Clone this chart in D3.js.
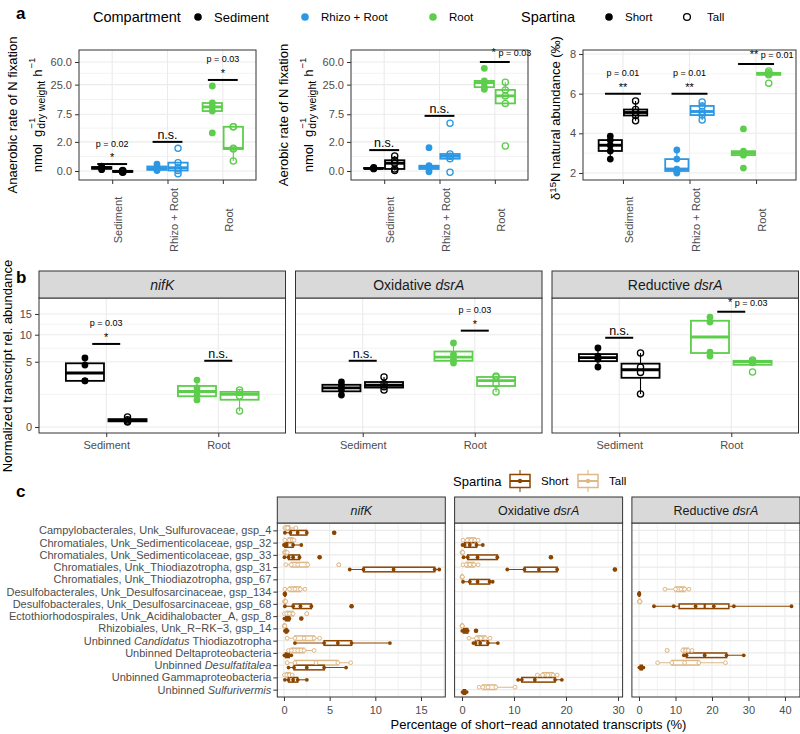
<!DOCTYPE html>
<html>
<head>
  <meta charset="utf-8">
  <title>Spartina N fixation and transcripts</title>
  <script src="https://d3js.org/d3.v7.min.js"></script>
  <style>
    body { margin: 0; background: #fff; }
  </style>
</head>
<body>
<script>
// ---------- data: panel a ----------
var compartments = ['Sediment', 'Rhizo + Root', 'Root'];
var spartina = ['Short', 'Tall'];

// N fixation rates, nmol g-1 dry weight h-1, one list per compartment
var anaerobicShort = [[0.15, 0.1, 0.05, 0.2], [0.3, 0.15, 0.05, 0.02], [23.7, 12, 10.2, 8.6, 3.2]];
var anaerobicTall = [[0.0, -0.03, 0.02, -0.05], [1.35, 0.37, 0.13, 0.02, -0.11], [4.3, 4.3, 1.35, 1.3, 0.46]];
var aerobicShort = [[0.1, 0.12, 0.08, 0.15, 0.1], [1.41, 0.22, 0.15, 0.08, -0.03], [47, 28.9, 27, 22.6, 20.8]];
var aerobicTall = [[0.76, 0.5, 0.34, 0.08, 0.02], [5.04, 0.9, 0.75, 0.59, -0.05], [27.5, 20.3, 16, 11.8, 1.57]];
// delta 15N (permil)
var d15nShort = [[3.86, 3.66, 3.4, 3.11, 2.7], [3.16, 2.7, 2.2, 2.1, 2.0], [4.22, 3.1, 3.0, 2.9, 2.25]];
var d15nTall = [[5.63, 5.2, 5.05, 4.9, 4.63], [5.58, 5.38, 5.1, 4.92, 4.67], [7.14, 7.05, 7.0, 6.95, 6.53]];
var rateTicks = [0, 2, 7.5, 25, 60];
var d15nTicks = [2, 4, 6, 8];
// significance: [bar height, stars, p label, p on same line]
var anaerobicSig = [[0.3, '*', 'p = 0.02'], [2.0, 'n.s.', ''], [30, '*', 'p = 0.03']];
var aerobicSig = [[1.2, 'n.s.', ''], [7, 'n.s.', ''], [60, '*', 'p = 0.03', true]];
var d15nSig = [[6, '**', 'p = 0.01'], [6, '**', 'p = 0.01'], [7.5, '**', 'p = 0.01', true]];

// ---------- data: panel b ----------
var genes = ['*nifK*', 'Oxidative *dsrA*', 'Reductive *dsrA*'];
var bCompartments = ['Sediment', 'Root'];
var transcriptShort = [
  [[5.6, 4.5, 2.5, 2.5], [2.59, 1.79, 1.2, 0.86]],
  [[2.38, 2.0, 1.6, 1.2], [8.29, 6.2, 5.27, 4.81]],
  [[7.33, 5.9, 5.4, 4.23], [14.2, 12.95, 6.6, 5.92]]
];
var transcriptTall = [
  [[0.12, 0.06, 0.04, 0.03], [1.61, 1.4, 1.13, 0.3]],
  [[2.94, 2.2, 1.9, 1.61], [3.05, 2.9, 2.17, 1.44]],
  [[6.43, 4.2, 3.5, 1.28], [5.27, 5.1, 4.9, 3.55]]
];
var transcriptTicks = [0, 5, 10, 15];
var transcriptSig = [
  [[8.1, '*', 'p = 0.03'], [5.15, 'n.s.', '']],
  [[5.15, 'n.s.', ''], [10.9, '*', 'p = 0.03']],
  [[9.35, 'n.s.', ''], [15.6, '*', 'p = 0.03', true]]
];

// ---------- data: panel c ----------
var taxa = [
  'Campylobacterales, Unk_Sulfurovaceae, gsp_4',
  'Chromatiales, Unk_Sedimenticolaceae, gsp_32',
  'Chromatiales, Unk_Sedimenticolaceae, gsp_33',
  'Chromatiales, Unk_Thiodiazotropha, gsp_31',
  'Chromatiales, Unk_Thiodiazotropha, gsp_67',
  'Desulfobacterales, Unk_Desulfosarcinaceae, gsp_134',
  'Desulfobacterales, Unk_Desulfosarcinaceae, gsp_68',
  'Ectothiorhodospirales, Unk_Acidihalobacter_A, gsp_8',
  'Rhizobiales, Unk_R\u2212RK\u22123, gsp_14',
  'Unbinned *Candidatus* Thiodiazotropha',
  'Unbinned Deltaproteobacteria',
  'Unbinned *Desulfatitalea*',
  'Unbinned Gammaproteobacteria',
  'Unbinned *Sulfurivermis*'
];
// percentage of annotated transcripts, one list per taxon
var nifKShort = [[0.1, 0.7, 1.5, 2.5, 5.5], [0, 0.1, 0.3, 1.0, 1.9], [0.05, 0.5, 1.0, 1.7, 3.9], [7.2, 8.7, 12, 16.5, 17], [],
  [0.05, 0.1, 0.1, 0.15], [0.1, 1.0, 1.8, 3.0, 7.4], [0.05, 0.2, 0.4, 0.6, 1.9], [0.1, 0.2, 0.3, 0.4],
  [1.2, 4.4, 5.9, 7.4, 11.6], [0.05, 0.2, 0.5, 0.8], [0.5, 1.1, 2.5, 4.4, 6.8], [0.1, 0.5, 1.0, 1.5, 2.5], []];
var nifKTall = [[0.1, 0.2, 0.4, 1.3], [0.1, 0.6, 0.9, 1.1], [0.05, 0.1, 0.2, 0.35], [0.2, 0.8, 1.5, 2.6, 6.0], [],
  [0.1, 0.6, 1.2, 1.8, 2.3], [0.05, 0.1, 0.15, 0.2], [0.05, 0.3, 0.6, 1.0, 2.5], [0.02, 0.05, 0.08, 0.1],
  [0.35, 1.2, 2.2, 3.3, 3.9], [0.5, 0.8, 1.5, 2.2, 3.3], [0.35, 1.2, 3.5, 5.9, 7.3], [0.05, 0.3, 0.6, 0.9], []];
var oxShort = [[], [0.1, 0.5, 1.5, 2.8, 4.0], [0.3, 1.1, 3.0, 6.8, 17.1], [8.7, 12, 14.8, 18.3, 29.4], [0.2, 1.5, 3.0, 5.3, 5.9],
  [], [], [], [0.05, 0.3, 0.7, 1.1, 2.7], [2.2, 2.6, 3.5, 5.0, 6.9], [], [], [10.8, 11.5, 14, 17.9, 19.2], [0.1, 0.3, 0.6, 0.9]];
var oxTall = [[], [0.2, 1.0, 1.8, 2.5, 3.1], [0, 0.05, 0.1, 0.15], [0.2, 0.8, 1.5, 2.3, 3.1], [0, 0.02, 0.05, 0.08],
  [], [], [], [0, 0.02, 0.04, 0.06], [1.35, 2.8, 3.6, 4.5, 5.4], [], [], [14.5, 15.5, 16.5, 17.5, 18.3], [3.3, 4.0, 5.0, 6.5, 10.2]];
var redShort = [[], [], [], [], [], [0, 0, 0.1, 0.1], [4.1, 9.5, 15.5, 20.5, 26, 41.8], [], [], [],
  [12.3, 13, 18, 24, 28.7], [0.1, 0.4, 0.8, 1.2], [], []];
var redTall = [[], [], [], [], [], [7.1, 10, 11.5, 12.5, 13.7], [0.1, 0.2, 0.3, 0.2], [], [], [],
  [7.7, 12, 12.8, 13.5, 14.5], [5.1, 9, 12.5, 16.4, 23.7], [], []];
var cTicks = [[0, 5, 10, 15], [0, 10, 20, 30], [0, 10, 20, 30, 40]];

// ---------- styles ----------
var compColors = {'Sediment': '#000000', 'Rhizo + Root': '#2C97E3', 'Root': '#5DCD4C'};
var spColors = {'Short': '#8B4500', 'Tall': '#DEB887'};
var gridCol = '#ebebeb', borderCol = '#333333', tickCol = '#4d4d4d';

var svg = d3.select('body').append('svg').attr('width', 800).attr('height', 734)
  .style('font-family', "'Liberation Sans', Arial, Helvetica, sans-serif");

// transforms (stats are computed on the transformed scale, like ggplot)
var tLog = function (v) { return Math.sign(v) * Math.log1p(Math.abs(v)); };
var iLog = function (t) { return Math.sign(t) * Math.expm1(Math.abs(t)); };
var tSqrt = function (v) { return Math.sign(v) * Math.sqrt(Math.abs(v)); };
var iSqrt = function (t) { return Math.sign(t) * t * t; };
var tLin = function (v) { return v; };

function boxStats(vals, tf) {
  var t = vals.map(tf).sort(d3.ascending);
  var q1 = d3.quantile(t, 0.25), med = d3.quantile(t, 0.5), q3 = d3.quantile(t, 0.75);
  var iqr = q3 - q1, lo = q1 - 1.5 * iqr, hi = q3 + 1.5 * iqr;
  var inside = t.filter(function (v) { return v >= lo - 1e-9 && v <= hi + 1e-9; });
  var out = t.filter(function (v) { return v < lo - 1e-9 || v > hi + 1e-9; });
  return {q1: q1, med: med, q3: q3, lo: d3.min(inside), hi: d3.max(inside), out: out};
}

function minorBreaks(ticks, tf, inv, dom) {
  var b = ticks.map(tf), res = [];
  var lo = tf(dom[0]), hi = tf(dom[1]), bd = b[1] - b[0];
  if (lo < b[0]) b.unshift(b[0] - bd);
  if (hi > b[b.length - 1]) b.push(b[b.length - 1] + bd);
  for (var i = 0; i < b.length - 1; i++) {
    var m = (b[i] + b[i + 1]) / 2;
    if (m > lo && m < hi) res.push(inv(m));
  }
  return res;
}

function hline(g, x0, x1, y, w) {
  g.append('line').attr('x1', x0).attr('x2', x1).attr('y1', y).attr('y2', y).attr('stroke', gridCol).attr('stroke-width', w);
}
function vline(g, x, y0, y1, w) {
  g.append('line').attr('x1', x).attr('x2', x).attr('y1', y0).attr('y2', y1).attr('stroke', gridCol).attr('stroke-width', w);
}

function rich(sel, str) {
  str.split('*').forEach(function (part, i) {
    if (part) sel.append('tspan').attr('font-style', i % 2 ? 'italic' : null).text(part);
  });
}

function styleAxis(a, size) {
  a.attr('font-family', null).attr('font-size', size || 11);
  a.select('.domain').remove();
  a.selectAll('.tick line').attr('stroke', borderCol);
  a.selectAll('.tick text').attr('fill', tickCol);
}

function drawVBox(g, y, tf, inv, cx, bw, vals, color, lw) {
  var s = boxStats(vals, tf);
  var Y = function (t) { return y(inv(t)); };
  g.append('line').attr('x1', cx).attr('x2', cx).attr('y1', Y(s.lo)).attr('y2', Y(s.hi))
    .attr('stroke', color).attr('stroke-width', 1.1);
  g.append('rect').attr('x', cx - bw / 2).attr('width', bw).attr('y', Y(s.q3))
    .attr('height', Math.max(0.5, Y(s.q1) - Y(s.q3)))
    .attr('fill', '#fff').attr('stroke', color).attr('stroke-width', lw);
  g.append('line').attr('x1', cx - bw / 2).attr('x2', cx + bw / 2).attr('y1', Y(s.med)).attr('y2', Y(s.med))
    .attr('stroke', color).attr('stroke-width', lw * 1.6);
}

function drawVPoints(g, y, cx, vals, color, open, r) {
  g.selectAll(null).data(vals).enter().append('circle')
    .attr('cx', cx).attr('cy', function (d) { return y(d); }).attr('r', r)
    .attr('fill', open ? 'none' : color).attr('stroke', color).attr('stroke-width', open ? 1.3 : 0);
}

function drawSig(g, cx, yb, half, s) {
  g.append('line').attr('x1', cx - half).attr('x2', cx + half).attr('y1', yb).attr('y2', yb)
    .attr('stroke', '#000').attr('stroke-width', 2);
  if (s[3]) {
    var t = g.append('text').attr('x', cx - s[1].length * 3.2).attr('y', yb - 6);
    t.append('tspan').attr('font-size', 11).text(s[1]);
    t.append('tspan').attr('font-size', 9).text('\u00a0' + s[2]);
  } else if (s[1] === 'n.s.') {
    g.append('text').attr('x', cx).attr('y', yb - 3).attr('text-anchor', 'middle').attr('font-size', 12.5).text('n.s.');
  } else {
    g.append('text').attr('x', cx).attr('y', yb - 3).attr('text-anchor', 'middle').attr('font-size', 11).text(s[1]);
    g.append('text').attr('x', cx).attr('y', yb - 17.5).attr('text-anchor', 'middle').attr('font-size', 9).text(s[2]);
  }
}

// ---------- panel a ----------
var aTop = 50, aBottom = 180;
var rateY = d3.scaleSymlog().constant(1).domain([-0.404, 94.97]).range([aBottom, aTop]);
var d15nY = d3.scaleLinear().domain([1.647, 8.2]).range([aBottom, aTop]);

var aPlots = [
  {x0: 79, x1: 256, y: rateY, tf: tLog, inv: iLog, ticks: rateTicks, fmt: d3.format('.1f'),
    short: anaerobicShort, tall: anaerobicTall, sig: anaerobicSig},
  {x0: 351, x1: 528, y: rateY, tf: tLog, inv: iLog, ticks: rateTicks, fmt: d3.format('.1f'),
    short: aerobicShort, tall: aerobicTall, sig: aerobicSig},
  {x0: 583, x1: 796, y: d15nY, tf: tLin, inv: tLin, ticks: d15nTicks, fmt: d3.format('d'),
    short: d15nShort, tall: d15nTall, sig: d15nSig}
];

aPlots.forEach(function (p) {
  var g = svg.append('g');
  var x = d3.scalePoint().domain(compartments).range([p.x0, p.x1]).padding(0.6);
  var st = x.step();
  g.append('rect').attr('x', p.x0).attr('y', aTop).attr('width', p.x1 - p.x0).attr('height', aBottom - aTop).attr('fill', '#fff');
  minorBreaks(p.ticks, p.tf, p.inv, p.y.domain()).forEach(function (v) { hline(g, p.x0, p.x1, p.y(v), 0.6); });
  p.ticks.forEach(function (v) { hline(g, p.x0, p.x1, p.y(v), 1.1); });
  compartments.forEach(function (c) { vline(g, x(c), aTop, aBottom, 1.1); });
  var boxes = g.append('g'), pts = g.append('g'), ann = g.append('g');
  compartments.forEach(function (c, i) {
    var col = compColors[c];
    drawVBox(boxes, p.y, p.tf, p.inv, x(c) - 0.19 * st, 0.35 * st, p.short[i], col, 1.8);
    drawVBox(boxes, p.y, p.tf, p.inv, x(c) + 0.19 * st, 0.35 * st, p.tall[i], col, 1.8);
    drawVPoints(pts, p.y, x(c) - 0.19 * st, p.short[i], col, false, 3.4);
    drawVPoints(pts, p.y, x(c) + 0.19 * st, p.tall[i], col, true, 3.1);
    drawSig(ann, x(c), p.y(p.sig[i][0]), 0.27 * st, p.sig[i]);
  });
  g.append('rect').attr('x', p.x0).attr('y', aTop).attr('width', p.x1 - p.x0).attr('height', aBottom - aTop)
    .attr('fill', 'none').attr('stroke', borderCol).attr('stroke-width', 1);
  var ya = g.append('g').attr('transform', 'translate(' + p.x0 + ',0)')
    .call(d3.axisLeft(p.y).tickValues(p.ticks).tickFormat(p.fmt).tickSize(4).tickPadding(3));
  styleAxis(ya, 11);
  var xa = g.append('g').attr('transform', 'translate(0,' + aBottom + ')').call(d3.axisBottom(x).tickSize(4));
  styleAxis(xa, 11);
  xa.selectAll('.tick text').attr('transform', 'rotate(-90)').attr('text-anchor', 'middle')
    .attr('x', -40).attr('y', 9.5).attr('dy', null);
});

// axis titles of panel a
function rateTitle(x1, x2, cy, first) {
  svg.append('text').attr('transform', 'translate(' + x1 + ',' + cy + ') rotate(-90)')
    .attr('text-anchor', 'middle').attr('font-size', 13).text(first);
  var outer = svg.append('g').attr('transform', 'translate(' + x2 + ',' + cy + ') rotate(-90)');
  var inner = outer.append('g');
  function piece(str, size, px, dy) {
    return inner.append('text').attr('x', px).attr('y', dy).attr('font-size', size).text(str).node().getComputedTextLength();
  }
  var pos = piece('nmol\u00a0\u00a0g', 13, 0, 0);
  var wSup = piece('\u22121', 9.5, pos + 1, -7);
  var wSub = piece('dry weight', 10.5, pos + 1, 3.5);
  pos += 1 + Math.max(wSup, wSub) + 4;
  pos += piece('h', 13, pos, 0);
  pos += 1 + piece('\u22121', 9.5, pos + 1, -7);
  inner.attr('transform', 'translate(' + (-pos / 2) + ',0)');
}
rateTitle(16.5, 41.5, 115, 'Anaerobic rate of N fixation');
rateTitle(288, 312.5, 115, 'Aerobic rate of N fixation');
var dt = svg.append('text').attr('transform', 'translate(560,118) rotate(-90)').attr('text-anchor', 'middle').attr('font-size', 13);
dt.append('tspan').text('\u03b4');
dt.append('tspan').attr('font-size', 9.5).attr('dy', -4).text('15');
dt.append('tspan').attr('dy', 4).text('N natural abundance (\u2030)');

// top legend
svg.append('text').attr('x', 16).attr('y', 18.5).attr('font-size', 17).attr('font-weight', 'bold').text('a');
svg.append('text').attr('x', 93).attr('y', 22).attr('font-size', 14.5).text('Compartment');
var legA = [
  {x: 198, label: 'Sediment', col: compColors['Sediment'], open: false, size: 13},
  {x: 305, label: 'Rhizo + Root', col: compColors['Rhizo + Root'], open: false, size: 11.5},
  {x: 433, label: 'Root', col: compColors['Root'], open: false, size: 11.5}
];
svg.append('text').attr('x', 521).attr('y', 22).attr('font-size', 14.5).text('Spartina');
legA.push({x: 609, label: spartina[0], col: '#000', open: false, size: 11.5});
legA.push({x: 687, label: spartina[1], col: '#000', open: true, size: 11.5});
legA.forEach(function (d) {
  svg.append('circle').attr('cx', d.x).attr('cy', 17).attr('r', d.open ? 3.4 : 3.8)
    .attr('fill', d.open ? 'none' : d.col).attr('stroke', d.col).attr('stroke-width', d.open ? 1.3 : 0);
  svg.append('text').attr('x', d.x + (d.open ? 20 : 16)).attr('y', 17 + d.size * 0.36).attr('font-size', d.size).text(d.label);
});

// ---------- panel b ----------
var bStrip = 271, bTop = 298, bBottom = 433;
var bX0 = [39, 295.5, 552], bW = 246.5;
var transcriptY = d3.scaleSqrt().domain([-0.0423, 19.54]).range([bBottom, bTop]);

svg.append('text').attr('x', 16).attr('y', 283).attr('font-size', 17).attr('font-weight', 'bold').text('b');
svg.append('text').attr('transform', 'translate(12,366) rotate(-90)').attr('text-anchor', 'middle')
  .attr('font-size', 13).text('Normalized transcript rel. abundance');

genes.forEach(function (gene, k) {
  var x0 = bX0[k], x1 = x0 + bW;
  var g = svg.append('g');
  var x = d3.scalePoint().domain(bCompartments).range([x0, x1]).padding(0.6);
  var st = x.step();
  g.append('rect').attr('x', x0).attr('y', bTop).attr('width', bW).attr('height', bBottom - bTop).attr('fill', '#fff');
  minorBreaks(transcriptTicks, tSqrt, iSqrt, transcriptY.domain()).forEach(function (v) { hline(g, x0, x1, transcriptY(v), 0.6); });
  transcriptTicks.forEach(function (v) { hline(g, x0, x1, transcriptY(v), 1.1); });
  bCompartments.forEach(function (c) { vline(g, x(c), bTop, bBottom, 1.1); });
  var boxes = g.append('g'), pts = g.append('g'), ann = g.append('g');
  bCompartments.forEach(function (c, i) {
    var col = compColors[c];
    drawVBox(boxes, transcriptY, tSqrt, iSqrt, x(c) - 0.19 * st, 0.34 * st, transcriptShort[k][i], col, 1.8);
    drawVBox(boxes, transcriptY, tSqrt, iSqrt, x(c) + 0.19 * st, 0.34 * st, transcriptTall[k][i], col, 1.8);
    drawVPoints(pts, transcriptY, x(c) - 0.19 * st, transcriptShort[k][i], col, false, 3.4);
    drawVPoints(pts, transcriptY, x(c) + 0.19 * st, transcriptTall[k][i], col, true, 3.1);
    drawSig(ann, x(c), transcriptY(transcriptSig[k][i][0]), 14, transcriptSig[k][i]);
  });
  g.append('rect').attr('x', x0).attr('y', bTop).attr('width', bW).attr('height', bBottom - bTop)
    .attr('fill', 'none').attr('stroke', borderCol).attr('stroke-width', 1);
  g.append('rect').attr('x', x0).attr('y', bStrip).attr('width', bW).attr('height', bTop - bStrip)
    .attr('fill', '#d9d9d9').attr('stroke', borderCol).attr('stroke-width', 1);
  var stxt = g.append('text').attr('x', (x0 + x1) / 2).attr('y', 289.5).attr('text-anchor', 'middle')
    .attr('font-size', 14).attr('fill', '#1a1a1a');
  rich(stxt, gene);
  var xa = g.append('g').attr('transform', 'translate(0,' + bBottom + ')').call(d3.axisBottom(x).tickSize(4).tickPadding(4));
  styleAxis(xa, 11);
  if (k === 0) {
    var ya = g.append('g').attr('transform', 'translate(' + x0 + ',0)')
      .call(d3.axisLeft(transcriptY).tickValues(transcriptTicks).tickFormat(d3.format('d')).tickSize(4).tickPadding(3));
    styleAxis(ya, 11);
  }
});

// ---------- panel c ----------
var cStrip = 497, cTop = 523, cBottom = 697;
var cX0 = [277.3, 454.6, 631.9], cW = 168;
var cDomains = [[-0.73, 17.66], [-1.42, 30.88], [-1.95, 44.1]];
var cFacets = [
  {label: '*nifK*', short: nifKShort, tall: nifKTall},
  {label: 'Oxidative *dsrA*', short: oxShort, tall: oxTall},
  {label: 'Reductive *dsrA*', short: redShort, tall: redTall}
];
var taxY = d3.scalePoint().domain(taxa).range([cTop, cBottom]).padding(0.6);

svg.append('text').attr('x', 16).attr('y', 497).attr('font-size', 17).attr('font-weight', 'bold').text('c');

function drawHBox(g, x, cy, bh, vals, color) {
  var s = boxStats(vals, tLin);
  g.append('line').attr('x1', x(s.lo)).attr('x2', x(s.hi)).attr('y1', cy).attr('y2', cy).attr('stroke', color).attr('stroke-width', 1.1);
  g.append('rect').attr('x', x(s.q1)).attr('width', Math.max(0.5, x(s.q3) - x(s.q1))).attr('y', cy - bh / 2).attr('height', bh)
    .attr('fill', '#fff').attr('stroke', color).attr('stroke-width', 1.5);
  g.append('line').attr('x1', x(s.med)).attr('x2', x(s.med)).attr('y1', cy - bh / 2).attr('y2', cy + bh / 2)
    .attr('stroke', color).attr('stroke-width', 2.2);
  g.selectAll(null).data(s.out).enter().append('circle').attr('cx', function (d) { return x(d); }).attr('cy', cy)
    .attr('r', 2.3).attr('fill', color);
}

cFacets.forEach(function (f, k) {
  var x0 = cX0[k], x1 = x0 + cW;
  var g = svg.append('g');
  var x = d3.scaleLinear().domain(cDomains[k]).range([x0, x1]);
  g.append('rect').attr('x', x0).attr('y', cTop).attr('width', cW).attr('height', cBottom - cTop).attr('fill', '#fff');
  minorBreaks(cTicks[k], tLin, tLin, cDomains[k]).forEach(function (v) { vline(g, x(v), cTop, cBottom, 0.6); });
  cTicks[k].forEach(function (v) { vline(g, x(v), cTop, cBottom, 1.1); });
  taxa.forEach(function (t) { hline(g, x0, x1, taxY(t), 1.1); });
  var boxes = g.append('g'), pts = g.append('g');
  taxa.forEach(function (t, i) {
    var groups = [['Tall', f.tall[i], -2.4], ['Short', f.short[i], 2.4]];
    groups.forEach(function (gr) {
      if (!gr[1].length) return;
      var col = spColors[gr[0]], cy = taxY(t) + gr[2], open = gr[0] === 'Tall';
      drawHBox(boxes, x, cy, 4.6, gr[1], col);
      pts.selectAll(null).data(gr[1]).enter().append('circle')
        .attr('cx', function (d) { return x(d); }).attr('cy', cy).attr('r', 1.9)
        .attr('fill', open ? '#fff' : col).attr('stroke', col).attr('stroke-width', open ? 1 : 0);
    });
  });
  g.append('rect').attr('x', x0).attr('y', cTop).attr('width', cW).attr('height', cBottom - cTop)
    .attr('fill', 'none').attr('stroke', borderCol).attr('stroke-width', 1);
  g.append('rect').attr('x', x0).attr('y', cStrip).attr('width', cW).attr('height', cTop - cStrip)
    .attr('fill', '#d9d9d9').attr('stroke', borderCol).attr('stroke-width', 1);
  var stxt = g.append('text').attr('x', (x0 + x1) / 2).attr('y', 514.5).attr('text-anchor', 'middle')
    .attr('font-size', 12.5).attr('fill', '#1a1a1a');
  rich(stxt, f.label);
  var xa = g.append('g').attr('transform', 'translate(0,' + cBottom + ')')
    .call(d3.axisBottom(x).tickValues(cTicks[k]).tickFormat(d3.format('d')).tickSize(4).tickPadding(5));
  styleAxis(xa, 11);
  if (k === 0) {
    var ya = g.append('g').attr('transform', 'translate(' + x0 + ',0)').call(d3.axisLeft(taxY).tickSize(4).tickPadding(2));
    styleAxis(ya, 11);
    ya.selectAll('.tick text').each(function (d) {
      var t = d3.select(this);
      t.text(null);
      rich(t, d);
    });
  }
});

svg.append('text').attr('x', 538.5).attr('y', 729).attr('text-anchor', 'middle').attr('font-size', 13)
  .text('Percentage of short\u2212read annotated transcripts (%)');

// panel c legend
svg.append('text').attr('x', 453).attr('y', 486).attr('font-size', 13).text('Spartina');
[{key: 'Short', kx: 520, tx: 541}, {key: 'Tall', kx: 588, tx: 609}].forEach(function (d) {
  var col = spColors[d.key];
  svg.append('line').attr('x1', d.kx).attr('x2', d.kx).attr('y1', 470).attr('y2', 492).attr('stroke', col).attr('stroke-width', 1.1);
  svg.append('rect').attr('x', d.kx - 10).attr('y', 474.5).attr('width', 20).attr('height', 13)
    .attr('fill', '#fff').attr('stroke', col).attr('stroke-width', 1.5);
  svg.append('line').attr('x1', d.kx - 10).attr('x2', d.kx + 10).attr('y1', 481).attr('y2', 481).attr('stroke', col).attr('stroke-width', 2);
  svg.append('circle').attr('cx', d.kx).attr('cy', 481).attr('r', 2.2).attr('fill', col);
  svg.append('text').attr('x', d.tx).attr('y', 485).attr('font-size', 11.5).text(d.key);
});
</script>
</body>
</html>
